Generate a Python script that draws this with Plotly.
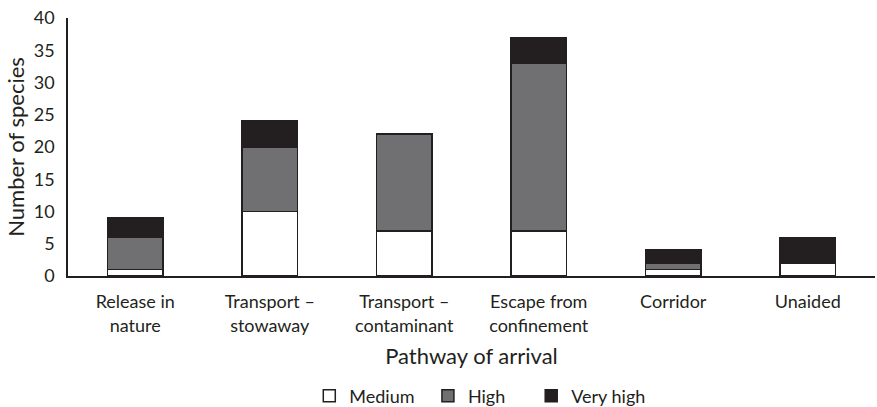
import plotly.graph_objects as go

categories = ["Release in<br>nature", "Transport –<br>stowaway", "Transport –<br>contaminant",
              "Escape from<br>confinement", "Corridor", "Unaided"]
medium = [1, 10, 7, 7, 1, 2]
high = [5, 10, 15, 26, 1, 0]
very_high = [3, 4, 0, 4, 2, 4]
y_ticks = [0, 5, 10, 15, 20, 25, 30, 35, 40]

line = dict(color="#231f20", width=1.5)
fig = go.Figure()
fig.add_trace(go.Bar(x=categories, y=medium, name="Medium", legend="legend", showlegend=True,
                     marker=dict(color="white", line=line)))
fig.add_trace(go.Bar(x=categories, y=high, name="High", legend="legend2", showlegend=True,
                     marker=dict(color="#707072", line=line)))
fig.add_trace(go.Bar(x=categories, y=very_high, name="Very high", legend="legend3", showlegend=True,
                     marker=dict(color="#231f20", line=line)))

font = dict(family="Lato, 'Liberation Sans', sans-serif", size=18, color="#231f20")


def leg(x):
    return dict(orientation="h", x=x, xanchor="left", y=-0.465, yanchor="middle",
                font=dict(size=18), itemwidth=30, bgcolor="rgba(0,0,0,0)")


fig.update_layout(
    barmode="stack", bargap=0.59, showlegend=True,
    width=877, height=407,
    margin=dict(l=68, r=2, t=18, b=131, autoexpand=False),
    paper_bgcolor="white", plot_bgcolor="white",
    font=font,
    legend=leg(0.299), legend2=leg(0.446), legend3=leg(0.574),
    xaxis=dict(showline=True, linecolor="#231f20", linewidth=1.5, automargin=False,
               ticks="outside", ticklen=9, tickcolor="rgba(0,0,0,0)",
               title=dict(text="Pathway of arrival", standoff=14), tickfont=dict(size=18)),
    yaxis=dict(range=[0, 40], tickvals=y_ticks, showline=True, linecolor="#231f20", linewidth=1.5,
               showgrid=False, zeroline=False, automargin=False, ticklabeloverflow="allow",
               ticks="outside", ticklen=8, tickcolor="rgba(0,0,0,0)",
               title=dict(text="Number of species", standoff=3), tickfont=dict(size=18)),
)
fig.write_html("out.html", post_script="document.body.style.margin='0px';",
               config={"displayModeBar": False})
